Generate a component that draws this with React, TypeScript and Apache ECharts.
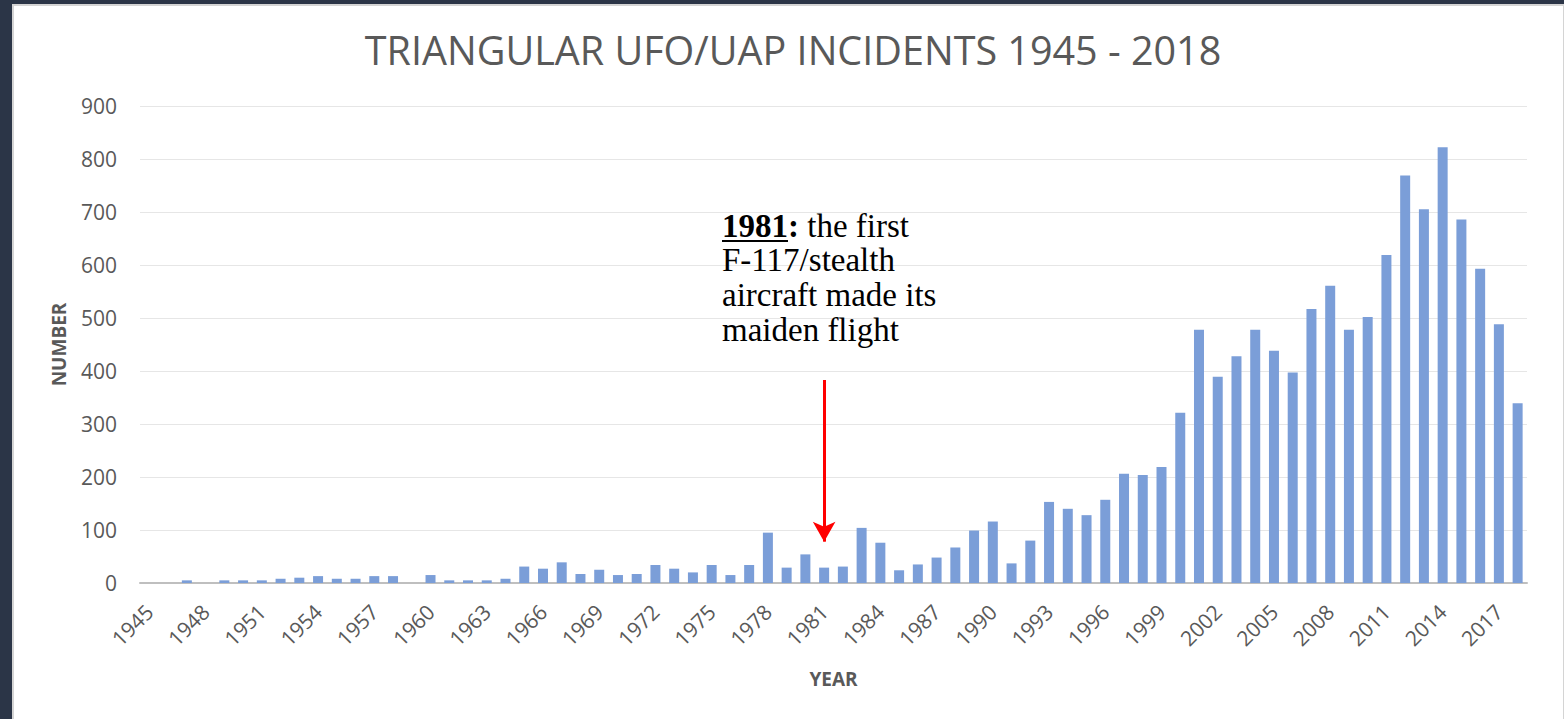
import React, { useEffect, useRef } from "react";
import * as echarts from "echarts";

const years = [
  "1945","1946","1947","1948","1949","1950","1951","1952","1953","1954",
  "1955","1956","1957","1958","1959","1960","1961","1962","1963","1964",
  "1965","1966","1967","1968","1969","1970","1971","1972","1973","1974",
  "1975","1976","1977","1978","1979","1980","1981","1982","1983","1984",
  "1985","1986","1987","1988","1989","1990","1991","1992","1993","1994",
  "1995","1996","1997","1998","1999","2000","2001","2002","2003","2004",
  "2005","2006","2007","2008","2009","2010","2011","2012","2013","2014",
  "2015","2016","2017","2018",
];

const incidents = [
  0, 0, 5, 0, 5, 5, 5, 8, 10, 13,
  8, 8, 13, 13, 0, 15, 5, 5, 5, 8,
  31, 27, 39, 17, 25, 15, 17, 34, 27, 20,
  34, 15, 34, 95, 29, 54, 29, 31, 104, 76,
  24, 35, 48, 67, 99, 116, 37, 80, 153, 140,
  128, 157, 206, 204, 219, 321, 478, 389, 428, 478,
  438, 397, 517, 561, 478, 502, 619, 769, 705, 822,
  686, 593, 488, 339,
];

const titleText = "TRIANGULAR UFO/UAP INCIDENTS 1945 - 2018";
const yAxisName = "NUMBER";
const xAxisName = "YEAR";

const annotationYear = "1981";
const arrowTopValue = 383;
const arrowTipValue = 78;
const annotationHead = "the first";
const annotationLines = ["F-117/stealth", "aircraft made its", "maiden flight"];

const SERIF = "'Liberation Serif', 'DejaVu Serif', serif";
const SANS = "'Open Sans', 'Noto Sans', sans-serif";

function measure(text: string, font: string): number {
  const c = document.createElement("canvas");
  const ctx = c.getContext("2d");
  if (!ctx) return text.length * 15;
  ctx.font = font;
  return ctx.measureText(text).width;
}

export default function App() {
  const ref = useRef<HTMLDivElement>(null);

  useEffect(() => {
    if (!ref.current) return;
    const chart = echarts.init(ref.current, undefined, { renderer: "svg" });

    const annX = 722;
    const fontSize = 33;
    const boldFont = `bold ${fontSize}px ${SERIF}`;
    const yearW = measure(annotationYear, boldFont);

    const lineMiddles = [226, 260, 295, 330];

    const graphic: any[] = [
      {
        type: "text",
        x: annX,
        y: lineMiddles[0],
        style: {
          text: `{b|${annotationYear}:} ${annotationHead}`,
          font: `${fontSize}px ${SERIF}`,
          fill: "#000",
          verticalAlign: "middle",
          rich: {
            b: { fontWeight: "bold", fontSize, fontFamily: SERIF, fill: "#000" },
          },
        },
        silent: true,
        z: 100,
      },
      {
        type: "line",
        shape: { x1: annX, y1: 241, x2: annX + yearW, y2: 241 },
        style: { stroke: "#000", lineWidth: 2 },
        silent: true,
        z: 100,
      },
      ...annotationLines.map((t, i) => ({
        type: "text",
        x: annX,
        y: lineMiddles[i + 1],
        style: {
          text: t,
          font: `${fontSize}px ${SERIF}`,
          fill: "#000",
          verticalAlign: "middle",
        },
        silent: true,
        z: 100,
      })),
    ];

    chart.setOption({
      animation: false,
      backgroundColor: "transparent",
      title: {
        text: titleText,
        left: 788,
        textAlign: "center",
        top: 25,
        textStyle: {
          fontSize: 39.5,
          fontWeight: "normal",
          color: "#595959",
          fontFamily: SANS,
        },
      },
      grid: { left: 140, right: 37, top: 106, bottom: 136, containLabel: false },
      xAxis: {
        type: "category",
        data: years,
        axisLine: { lineStyle: { color: "#bfbfbf", width: 2 } },
        axisTick: { show: false },
        axisLabel: {
          interval: 2,
          rotate: 45,
          fontSize: 21,
          color: "#595959",
          fontFamily: SANS,
          margin: 25,
        },
        name: xAxisName,
        nameLocation: "middle",
        nameGap: 86,
        nameTextStyle: {
          fontWeight: "bold",
          fontSize: 19,
          color: "#595959",
          fontFamily: SANS,
        },
      },
      yAxis: {
        type: "value",
        min: 0,
        max: 900,
        interval: 100,
        axisLine: { show: false },
        axisTick: { show: false },
        axisLabel: {
          fontSize: 21,
          color: "#595959",
          fontFamily: SANS,
          margin: 23,
        },
        splitLine: { lineStyle: { color: "#e6e6e6", width: 1 } },
        name: yAxisName,
        nameLocation: "middle",
        nameGap: 72,
        nameTextStyle: {
          fontWeight: "bold",
          fontSize: 19,
          color: "#595959",
          fontFamily: SANS,
        },
      },
      series: [
        {
          type: "bar",
          data: incidents,
          barWidth: 10,
          itemStyle: { color: "#7b9ed8" },
          emphasis: { disabled: true },
          markLine: {
            silent: true,
            symbol: ["none", "arrow"],
            symbolSize: [17, 20],
            label: { show: false },
            lineStyle: { color: "#ff0000", width: 3, type: "solid" },
            emphasis: { disabled: true },
            data: [
              [
                { coord: [annotationYear, arrowTopValue] },
                { coord: [annotationYear, arrowTipValue] },
              ],
            ],
          },
        },
      ],
      graphic,
    });

    return () => chart.dispose();
  }, []);

  return (
    <div
      style={{
        position: "fixed",
        left: 0,
        top: 0,
        width: 1564,
        height: 719,
        background: "#2b3547",
        overflow: "hidden",
      }}
    >
      <div
        style={{
          position: "absolute",
          left: 12,
          top: 4,
          right: 0,
          bottom: 0,
          background: "#ffffff",
          borderLeft: "2px solid #d4d4d4",
          borderTop: "2px solid #d4d4d4",
          borderRight: "1px solid #d4d4d4",
        }}
      />
      <div
        ref={ref}
        style={{ position: "absolute", left: 0, top: 0, width: 1564, height: 719 }}
      />
    </div>
  );
}
